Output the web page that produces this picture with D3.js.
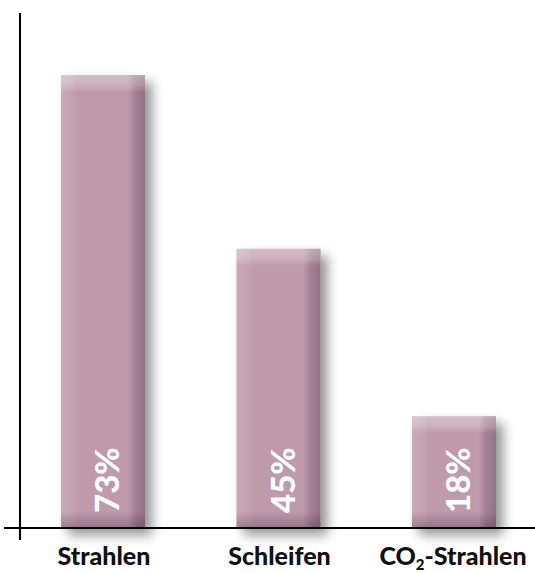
<!DOCTYPE html>
<html>
<head>
<meta charset="utf-8">
<script src="https://cdn.jsdelivr.net/npm/d3@7"></script>
<style>
  body { margin: 0; background: #fff; }
  svg { display: block; }
</style>
</head>
<body>
<div id="chart"></div>
<script>
// data
const categories = ["Strahlen", "Schleifen", "CO2-Strahlen"];
const values = [73, 45, 18];
const valueLabels = ["73%", "45%", "18%"];

const W = 535, H = 573;
const margin = {top: 13, right: 0, bottom: 45, left: 20};

const svg = d3.select("#chart").append("svg")
    .attr("width", W)
    .attr("height", H);

const defs = svg.append("defs");

// soft shadow down/right of each bar
const f = defs.append("filter").attr("id", "shadow")
    .attr("x", "-20%").attr("y", "-10%").attr("width", "160%").attr("height", "130%");
f.append("feDropShadow")
    .attr("dx", 7).attr("dy", 7).attr("stdDeviation", 6)
    .attr("flood-color", "#000").attr("flood-opacity", 0.42);

// bevel gradients
function grad(id, x2, y2, stops) {
  const g = defs.append("linearGradient").attr("id", id)
      .attr("x1", 0).attr("y1", 0).attr("x2", x2).attr("y2", y2);
  stops.forEach(s => g.append("stop").attr("offset", s[0])
      .attr("stop-color", s[1]).attr("stop-opacity", s[2]));
}
grad("topG", 0, 1, [[0, "#fff", 0.35], [0.6, "#fff", 0.22], [1, "#fff", 0]]);
grad("leftG", 1, 0, [[0, "#fff", 0.16], [0.7, "#fff", 0.08], [1, "#fff", 0]]);
grad("rightG", 1, 0, [[0, "#3a2030", 0], [0.45, "#3a2030", 0.22], [1, "#3a2030", 0.32]]);
grad("bottomG", 0, 1, [[0, "#3a2030", 0], [0.5, "#3a2030", 0.15], [1, "#3a2030", 0.3]]);

const x = d3.scalePoint()
    .domain(categories)
    .range([103, 454]);
const barW = 84;

const y = d3.scaleLinear()
    .domain([0, 83])
    .range([528, margin.top]);

const bev = 17;

const bars = svg.append("g").selectAll("g")
  .data(values)
  .join("g")
    .attr("transform", (d, i) => `translate(${x(categories[i]) - barW / 2},${y(d)})`);

bars.append("rect")
    .attr("width", barW)
    .attr("height", d => y(0) - y(d))
    .attr("fill", "#be9aab")
    .attr("filter", "url(#shadow)");
bars.append("rect")
    .attr("width", bev).attr("height", d => y(0) - y(d))
    .attr("fill", "url(#leftG)");
bars.append("rect")
    .attr("x", barW - bev).attr("width", bev).attr("height", d => y(0) - y(d))
    .attr("fill", "url(#rightG)");
bars.append("rect")
    .attr("y", d => y(0) - y(d) - bev).attr("width", barW).attr("height", bev)
    .attr("fill", "url(#bottomG)");
bars.append("rect")
    .attr("width", barW).attr("height", bev)
    .attr("fill", "url(#topG)");

// value labels rotated inside bars
svg.append("g").selectAll("text")
  .data(valueLabels)
  .join("text")
    .attr("transform", (d, i) => `translate(${x(categories[i]) + 16},513) rotate(-90)`)
    .attr("fill", "#fff")
    .style("font-family", "Lato, sans-serif")
    .style("font-weight", 900)
    .style("font-size", "33px")
    .text(d => d);

// axes lines
svg.append("line")
    .attr("x1", margin.left).attr("x2", margin.left)
    .attr("y1", margin.top).attr("y2", 540)
    .attr("stroke", "#000").attr("stroke-width", 2);
svg.append("line")
    .attr("x1", 4).attr("x2", W)
    .attr("y1", y(0)).attr("y2", y(0))
    .attr("stroke", "#000").attr("stroke-width", 2);

// category labels
const catText = svg.append("g").selectAll("text")
  .data(categories)
  .join("text")
    .attr("x", (d, i) => x(d) + (i === 2 ? -1 : 1))
    .attr("y", 565)
    .attr("text-anchor", "middle")
    .attr("fill", "#111")
    .style("font-family", "Lato, sans-serif")
    .style("font-weight", 900)
    .style("font-size", "25px");

catText.each(function(d) {
  const t = d3.select(this);
  if (d.startsWith("CO2")) {
    t.append("tspan").text("CO");
    t.append("tspan").attr("dy", 5).style("font-size", "15px").text("2");
    t.append("tspan").attr("dy", -5).text(d.slice(3));
  } else {
    t.text(d);
  }
});
</script>
</body>
</html>
